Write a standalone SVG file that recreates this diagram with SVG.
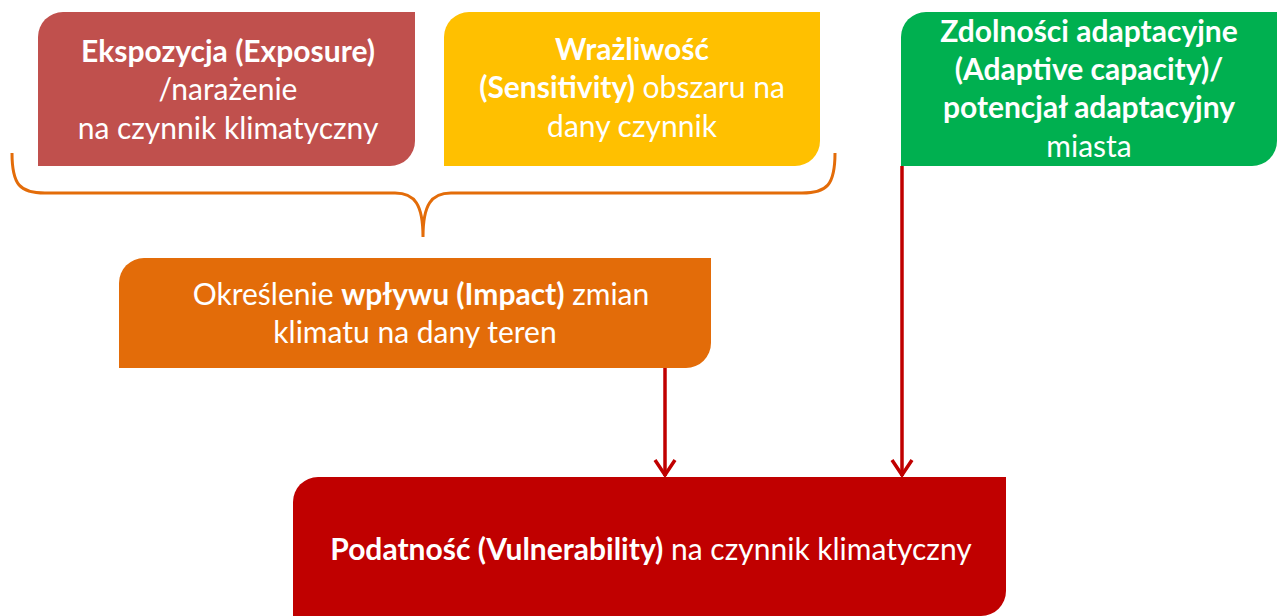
<svg xmlns="http://www.w3.org/2000/svg" width="1277" height="616" viewBox="0 0 1277 616">
<style>
text{font-family:Lato,"Open Sans","Liberation Sans",sans-serif;font-size:30px;fill:#fff;text-anchor:middle}
.b{font-weight:bold}
.conn{stroke:#C00000;stroke-width:3.5;fill:none}
.brace{stroke:#E36C09;stroke-width:3;fill:none}
</style>
<defs>
<marker id="ah" viewBox="0 0 20 24" refX="18" refY="12" markerWidth="20" markerHeight="24" markerUnits="userSpaceOnUse" orient="auto">
<path d="M2,2 L17,12 L2,22" fill="none" stroke="#C00000" stroke-width="3.5"/>
</marker>
</defs>
<rect width="1277" height="616" fill="#fff"/>
<g id="exposure">
<path d="M38,37 A25,25 0 0 1 63,12 L415,12 L415,141 A25,25 0 0 1 390,166 L38,166 Z" fill="#C0504D"/>
<text x="228" y="62" class="b">Ekspozycja (Exposure)</text>
<text x="228" y="100">/narażenie</text>
<text x="228" y="139">na czynnik klimatyczny</text>
</g>
<g id="sensitivity">
<path d="M444,37 A25,25 0 0 1 469,12 L820,12 L820,141 A25,25 0 0 1 795,166 L444,166 Z" fill="#FFC000"/>
<text x="632" y="60" class="b">Wrażliwość</text>
<text x="632" y="98"><tspan class="b">(Sensitivity)</tspan> obszaru na</text>
<text x="632" y="137">dany czynnik</text>
</g>
<g id="adaptive">
<path d="M901,37 A25,25 0 0 1 926,12 L1277,12 L1277,141 A25,25 0 0 1 1252,166 L901,166 Z" fill="#00B050"/>
<text x="1089" y="42" class="b">Zdolności adaptacyjne</text>
<text x="1089" y="80" class="b">(Adaptive capacity)/</text>
<text x="1089" y="118" class="b">potencjał adaptacyjny</text>
<text x="1089" y="157">miasta</text>
</g>
<g id="brace">
<path class="brace" d="M12,153 C12,185 20,193 45,193 L395,193 C415,193 423,205 423,237 M835,153 C835,185 827,193 802,193 L451,193 C431,193 423,205 423,237"/>
</g>
<g id="impact">
<path d="M119,283 A25,25 0 0 1 144,258 L711,258 L711,343 A25,25 0 0 1 686,368 L119,368 Z" fill="#E36C09"/>
<text x="421" y="305">Określenie <tspan class="b">wpływu (Impact)</tspan> zmian</text>
<text x="415" y="343">klimatu na dany teren</text>
</g>
<g id="vulnerability">
<path d="M293,502 A25,25 0 0 1 318,477 L1006,477 L1006,591 A25,25 0 0 1 981,616 L293,616 Z" fill="#C00000"/>
<text x="651" y="560"><tspan class="b">Podatność (Vulnerability)</tspan> na czynnik klimatyczny</text>
</g>
<g id="connectors">
<line class="conn" x1="665" y1="368" x2="665" y2="476" marker-end="url(#ah)"/>
<line class="conn" x1="902" y1="166" x2="902" y2="476" marker-end="url(#ah)"/>
</g>
</svg>
